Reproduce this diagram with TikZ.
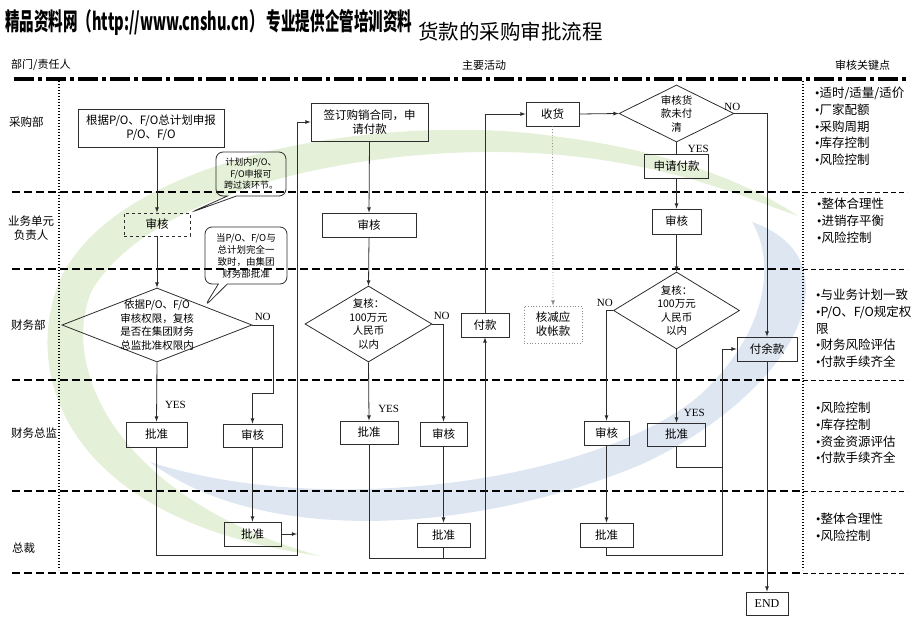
\documentclass[tikz,border=0pt]{standalone}
\usepackage{fontspec}
\setmainfont{Liberation Serif}
\newfontfamily\cjk{Noto Sans CJK SC}
\usepackage{graphicx}
\usetikzlibrary{shapes.geometric}
\usetikzlibrary{shapes.callouts}
\usetikzlibrary{positioning,calc}

\definecolor{swgreen}{RGB}{229,240,216}
\definecolor{swblue}{RGB}{221,230,241}
\definecolor{ln}{RGB}{45,45,45}
\newcommand{\bul}{{\rmfamily\textbullet}}

\begin{document}
\begin{tikzpicture}[x=1pt,y=-1pt]
\tikzstyle{box}=[draw=ln,line width=0.8pt,inner sep=0pt,align=center,font={\cjk\fontsize{11.5}{14}\selectfont}]
\tikzstyle{decision}=[draw=ln,line width=0.8pt,diamond,inner sep=0pt]
\tikzstyle{dtext}=[align=center,inner sep=0pt,font={\cjk\fontsize{10.5}{13.5}\selectfont}]
\tikzstyle{note}=[draw=ln,line width=0.8pt,rectangle callout,rounded corners=7pt,callout pointer width=9pt,inner sep=0pt,align=center]
\tikzstyle{flow}=[draw=ln,line width=0.8pt]
\tikzstyle{yn}=[inner sep=0pt,font=\fontsize{11}{13}\selectfont]
\tikzstyle{lane}=[anchor=west,inner sep=0pt,align=center,font={\cjk\fontsize{11.5}{14}\selectfont}]
\tikzstyle{keys}=[anchor=north west,inner sep=0pt,align=left,font={\cjk\fontsize{12.5}{16.7}\selectfont}]
\tikzstyle{laneline}=[line width=1.4pt,dash pattern=on 8pt off 4pt]
\tikzstyle{keyline}=[line width=1pt,dash pattern=on 5pt off 3pt]
\tikzstyle{dotline}=[line width=1.3pt,dash pattern=on 1.3pt off 1.7pt]

\useasboundingbox (0,0) rectangle (920,637);

% background swooshes
\fill[swgreen] (320,556) .. controls (60,520) and (22,370) .. (60,280) .. controls (120,150) and (400,112) .. (560,137) .. controls (680,152) and (760,190) .. (798,216) .. controls (750,200) and (680,166) .. (560,155) .. controls (400,140) and (160,180) .. (92,290) .. controls (58,370) and (120,500) .. (320,556) -- cycle;
\fill[swblue] (150,462) .. controls (260,545) and (470,535) .. (640,465) .. controls (740,420) and (830,330) .. (800,260) .. controls (790,240) and (770,228) .. (752,222) .. controls (775,260) and (770,330) .. (700,395) .. controls (600,480) and (330,520) .. (150,462) -- cycle;

% titles
\node (title) [anchor=west,inner sep=0pt] at (5,22.5) {\resizebox{407pt}{21pt}{\cjk\bfseries 精品资料网（http://www.cnshu.cn） 专业提供企管培训资料}};
\node (subtitle) [anchor=west,inner sep=0pt,font={\cjk\fontsize{20.5}{22}\selectfont}] at (418,32) {货款的采购审批流程};
\node (hdr_dept) [anchor=west,inner sep=0pt,font={\cjk\fontsize{11}{13}\selectfont}] at (11,65) {部门/责任人};
\node (hdr_main) [anchor=west,inner sep=0pt,font={\cjk\fontsize{11}{13}\selectfont}] at (462,65) {主要活动};
\node (hdr_key) [anchor=west,inner sep=0pt,font={\cjk\fontsize{11}{13}\selectfont}] at (835,65) {审核关键点};

% lanes
\draw[line width=3.5pt,dash pattern=on 20pt off 4pt on 4pt off 4pt] (14,79) -- (908,79);
\foreach \y in {192,269,380,491,573} {
  \draw[laneline] (12,\y) -- (803,\y);
  \draw[keyline] (803,\y) -- (907,\y);
}
\draw[dotline] (59,81) -- (59,570);
\draw[dotline] (803,81) -- (803,570);

\node (lane_buy) [lane] at (9,122) {采购部};
\node (lane_unit) [lane] at (8,228.5) {业务单元\\负责人};
\node (lane_fin) [lane] at (11,325) {财务部};
\node (lane_cfo) [lane] at (11,433) {财务总监};
\node (lane_ceo) [lane] at (12,548) {总裁};

% left branch
\node (plan) [box,minimum width=146pt,minimum height=38pt] at (151,128) {根据P/O、F/O总计划申报\\P/O、F/O};
\node (chk1) [box,dashed,minimum width=66pt,minimum height=23pt] at (157,224.5) {审核};
\node (note1) [note,minimum width=70pt,minimum height=44pt,font={\cjk\fontsize{9}{11.5}\selectfont},callout absolute pointer={(chk1.north east)}] at (251,174) {计划内P/O、\\F/O申报可\\跨过该环节。};
\node (dia1) [decision,minimum width=190pt,minimum height=74pt,label={[dtext]center:{依据P/O、F/O\\审核权限，复核\\是否在集团财务\\总监批准权限内}}] at (157,325) {};
\node (note2) [note,minimum width=82pt,minimum height=57pt,font={\cjk\fontsize{9.5}{12}\selectfont},callout absolute pointer={(dia1.north east)}] at (246,255.5) {当P/O、F/O与\\总计划完全一\\致时，由集团\\财务部批准};
\node (app1) [box,minimum width=61pt,minimum height=25pt] at (156.5,434.5) {批准};
\node (chk2) [box,minimum width=59pt,minimum height=23pt] at (252.5,435.5) {审核};
\node (app2) [box,minimum width=57pt,minimum height=24pt] at (252.5,534) {批准};
\coordinate (up1) at (297,555);

% middle branch
\node (sign) [box,minimum width=117pt,minimum height=38pt] at (369.5,122) {签订购销合同，申\\请付款};
\node (chk3) [box,minimum width=94pt,minimum height=24pt] at (369,225) {审核};
\node (dia2) [decision,minimum width=127pt,minimum height=76pt,label={[dtext]center:{复核：\\100万元\\人民币\\以内}}] at (368.5,324) {};
\node (app3) [box,minimum width=58pt,minimum height=23pt] at (369,432.5) {批准};
\node (chk4) [box,minimum width=47pt,minimum height=24pt] at (443.5,434) {审核};
\node (app4) [box,minimum width=53pt,minimum height=24pt] at (443.5,535) {批准};
\node (pay) [box,minimum width=48pt,minimum height=24pt] at (485,325) {付款};
\coordinate (up2) at (485,558);

% right branch
\node (recv) [box,minimum width=53pt,minimum height=24pt] at (552.5,114) {收货};
\node (wo) [box,draw=black!45,dotted,minimum width=58pt,minimum height=37pt] at (553,324.5) {核减应\\收帐款};
\node (dia3) [decision,minimum width=115pt,minimum height=57pt,label={[dtext]center:{审核货\\款未付\\清}}] at (676.5,113.5) {};
\node (req) [box,minimum width=64pt,minimum height=24pt] at (676.5,166) {申请付款};
\node (chk5) [box,minimum width=49pt,minimum height=25pt] at (676.5,221.5) {审核};
\node (dia4) [decision,minimum width=126pt,minimum height=77pt,label={[dtext]center:{复核：\\100万元\\人民币\\以内}}] at (676.5,310.5) {};
\node (chk6) [box,minimum width=45pt,minimum height=24pt] at (606.5,433) {审核};
\node (app5) [box,minimum width=58pt,minimum height=23pt] at (676.5,434.5) {批准};
\node (app6) [box,minimum width=53pt,minimum height=24pt] at (606.5,535) {批准};
\node (rest) [box,minimum width=60pt,minimum height=24pt] at (767,349) {付余款};
\node (fin) [box,font=\fontsize{12}{14}\selectfont,minimum width=42pt,minimum height=23pt] at (767,603.5) {END};
\coordinate (up3) at (722,555);
\coordinate (j5) at (722,467);

% connectors
\draw [flow,-latex] (chk1.north |- plan.south) -- (chk1.north);
\draw [flow,-latex] (chk1.south) -- (dia1.north);
\draw [flow,-latex] (dia1.south) -- (app1.north) node [yn,pos=0.72,anchor=west,xshift=8pt] {YES};
\draw [flow,-latex] (dia1.east) node [yn,anchor=south west,xshift=2pt,yshift=4pt] {NO} -- ++(21,0) -- ++(0,68) -| (chk2.north);
\draw [flow,-latex] (chk2.south) -- (app2.north);
\draw [flow,-latex] (app2.east) -- (app2.east -| up1);
\draw [flow,-latex] (app1.south) |- (up1) |- (sign.west);

\draw [flow,-latex] (sign.south) -- (chk3.north);
\draw [flow,-latex] (chk3.south) -- (dia2.north);
\draw [flow,-latex] (dia2.east) node [yn,anchor=south west,xshift=1pt,yshift=4pt] {NO} -| (chk4.north);
\draw [flow,-latex] (dia2.south) -- (app3.north) node [yn,pos=0.8,anchor=west,xshift=9pt] {YES};
\draw [flow,-latex] (chk4.south) -- (app4.north);
\draw [flow,-latex] (app3.south) |- (up2) -- (pay.south);
\draw [flow] (app4.south) -- (app4.south |- up2);
\draw [flow,-latex] (pay.north) |- (recv.west);

\draw [draw=black!45,line width=0.8pt,dotted,-latex] (recv.south) -- (wo.north);
\draw [flow,-latex] (recv.east) -- (dia3.west);
\draw [flow,-latex] (dia3.east) node [yn,anchor=south,xshift=-2pt,yshift=2pt] {NO} -| (rest.north);
\draw [flow] (dia3.south) -- (req.north) node [yn,pos=0.5,anchor=west,xshift=11pt,yshift=-1pt] {YES};
\draw [flow,-latex] (req.south) -- (chk5.north);
\draw [flow,-latex] (chk5.south) -- (dia4.north);
\draw [flow,-latex] (dia4.west) node [yn,anchor=south east,yshift=3pt] {NO} -| (chk6.north);
\draw [flow,-latex] (dia4.south) -- (app5.north) node [yn,pos=0.87,anchor=west,xshift=7pt] {YES};
\draw [flow,-latex] (chk6.south) -- (app6.north);
\draw [flow,-latex] (app6.south) |- (up3) |- (rest.west);
\draw [flow] (app5.south) |- (j5);
\draw [flow,-latex] (rest.south) -- (fin.north);

% key points
\node (key_buy) [keys] at (815,87) {\bul 适时/适量/适价\\\bul 厂家配额\\\bul 采购周期\\\bul 库存控制\\\bul 风险控制};
\node (key_unit) [keys] at (817,198) {\bul 整体合理性\\\bul 进销存平衡\\\bul 风险控制};
\node (key_fin) [keys] at (816,289) {\bul 与业务计划一致\\\bul P/O、F/O规定权\\限\\\bul 财务风险评估\\\bul 付款手续齐全};
\node (key_cfo) [keys] at (816,402) {\bul 风险控制\\\bul 库存控制\\\bul 资金资源评估\\\bul 付款手续齐全};
\node (key_ceo) [keys] at (816,513) {\bul 整体合理性\\\bul 风险控制};

\end{tikzpicture}
\end{document}
